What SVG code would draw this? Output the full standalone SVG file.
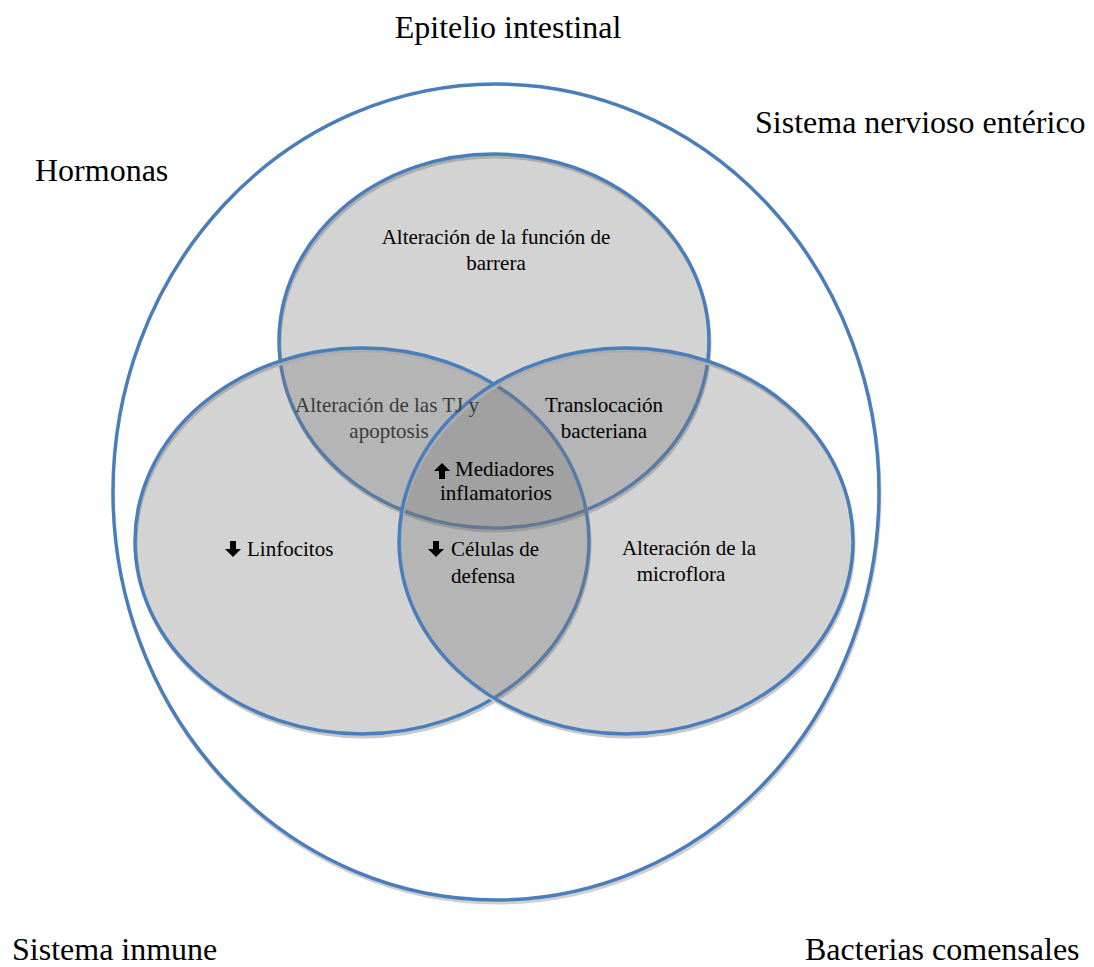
<svg xmlns="http://www.w3.org/2000/svg" width="1094" height="967" viewBox="0 0 1094 967">
<defs>
<path id="up" d="M0,-8 L8,0 L3,0 L3,8 L-3,8 L-3,0 L-8,0 Z"/>
<path id="down" d="M0,8 L8,0 L3,0 L3,-8 L-3,-8 L-3,0 L-8,0 Z"/>
</defs>
<style>
.big{font-family:"Liberation Serif",serif;font-size:32px;fill:#000}
.t{font-family:"Liberation Serif",serif;font-size:21px;fill:#000;text-anchor:middle}
.ts{text-anchor:start}
.tg{fill:#3a3a3a}
.ell{fill:#757575;fill-opacity:0.32;stroke:#4A7EBB;stroke-width:3.5}
.sh{fill:none;stroke:#c8c8c8;stroke-width:3}
</style>
<rect width="1094" height="967" fill="#fff"/>
<g id="outer">
<ellipse cx="497" cy="495" rx="383" ry="408" fill="none" stroke="#d0d0d0" stroke-width="3"/>
<ellipse cx="496" cy="492" rx="383" ry="408" fill="#fff" stroke="#4A7EBB" stroke-width="3.5"/>
</g>
<g id="top">
<ellipse class="sh" cx="495" cy="344" rx="215" ry="187"/>
<ellipse class="ell" cx="494" cy="341" rx="215" ry="187"/>
</g>
<g id="left">
<ellipse class="sh" cx="363" cy="544" rx="227" ry="193"/>
<ellipse class="ell" cx="362" cy="541" rx="227" ry="193"/>
</g>
<g id="right">
<ellipse class="sh" cx="627" cy="544" rx="227" ry="193"/>
<ellipse class="ell" cx="626" cy="541" rx="227" ry="193"/>
</g>
<g id="labels">
<text class="big" x="508" y="38" text-anchor="middle">Epitelio intestinal</text>
<text class="big" x="755" y="133">Sistema nervioso entérico</text>
<text class="big" x="35" y="181">Hormonas</text>
<text class="big" x="12" y="960">Sistema inmune</text>
<text class="big" x="805" y="960">Bacterias comensales</text>
</g>
<g id="t-barrera">
<text class="t" x="496" y="244">Alteración de la función de</text>
<text class="t" x="496" y="270">barrera</text>
</g>
<g id="t-tj">
<text class="t tg" x="387" y="412">Alteración de las TJ y</text>
<text class="t tg" x="389" y="438">apoptosis</text>
</g>
<g id="t-transloc">
<text class="t" x="604" y="412">Translocación</text>
<text class="t" x="604" y="438">bacteriana</text>
</g>
<g id="t-mediadores">
<use href="#up" x="442" y="471"/>
<text class="t ts" x="455" y="476">Mediadores</text>
<text class="t" x="496" y="500">inflamatorios</text>
</g>
<g id="t-linfocitos">
<use href="#down" x="233" y="549"/>
<text class="t ts" x="247" y="556">Linfocitos</text>
</g>
<g id="t-celulas">
<use href="#down" x="436" y="549"/>
<text class="t ts" x="451" y="556">Células de</text>
<text class="t ts" x="451" y="583">defensa</text>
</g>
<g id="t-microflora">
<text class="t" x="689" y="555">Alteración de la</text>
<text class="t" x="681" y="581">microflora</text>
</g>
<g id="connectors"></g>
</svg>
